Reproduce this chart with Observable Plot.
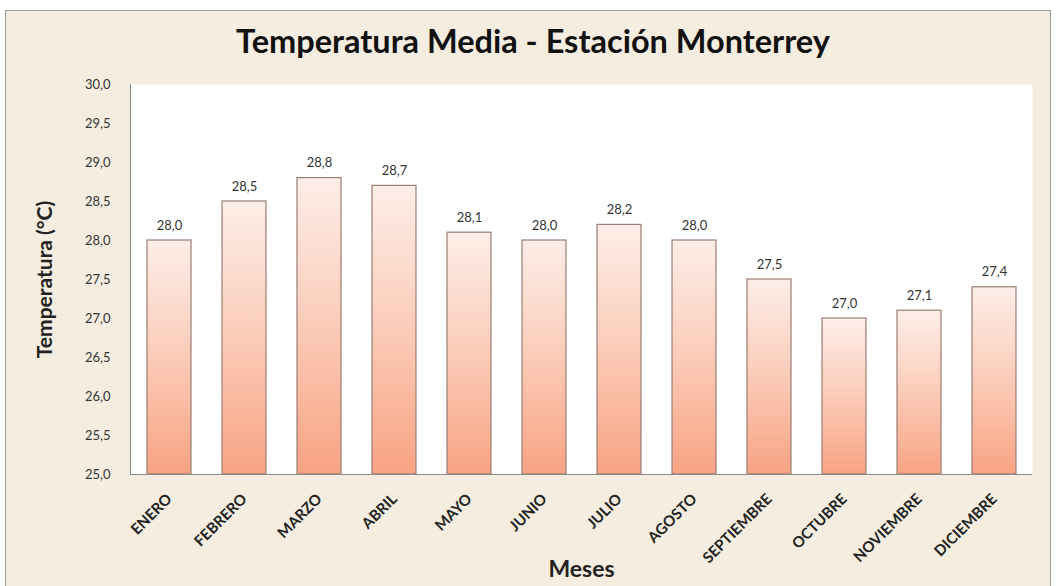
<!DOCTYPE html>
<html>
<head>
<meta charset="utf-8">
<script src="https://cdn.jsdelivr.net/npm/d3@7"></script>
<script src="https://cdn.jsdelivr.net/npm/@observablehq/plot@0.6"></script>
<style>
  html, body { margin: 0; padding: 0; background: #ffffff; }
  #page { position: relative; width: 1056px; height: 586px; overflow: hidden; background: #ffffff; }
  #frame { position: absolute; left: 5px; top: 10px; width: 1046px; height: 590px;
           background: #f5eee0; border: 1px solid #9a9a9a; box-sizing: border-box; }
  #title { position: absolute; left: 0; top: 21px; width: 1066px; text-align: center;
           font-family: Lato, "Open Sans", sans-serif; font-weight: bold; font-size: 32.5px; color: #111; }
  #chart { position: absolute; left: 0; top: 70px; }
</style>
</head>
<body>
<div id="page">
  <div id="frame"></div>
  <div id="title">Temperatura Media - Estación Monterrey</div>
  <div id="chart"></div>
</div>
<script>
const months = ["ENERO","FEBRERO","MARZO","ABRIL","MAYO","JUNIO","JULIO","AGOSTO","SEPTIEMBRE","OCTUBRE","NOVIEMBRE","DICIEMBRE"];
const temps = [28.0, 28.5, 28.8, 28.7, 28.1, 28.0, 28.2, 28.0, 27.5, 27.0, 27.1, 27.4];
const yTicks = [25.0, 25.5, 26.0, 26.5, 27.0, 27.5, 28.0, 28.5, 29.0, 29.5, 30.0];

const data = months.map((m, i) => ({month: m, temp: temps[i]}));
const fmt = d => d.toFixed(1).replace(".", ",");

const defs = () => {
  const svgDefs = d3.create("svg:defs");
  const g = svgDefs.append("linearGradient").attr("id", "barGrad")
    .attr("x1", 0).attr("y1", 0).attr("x2", 0).attr("y2", 1);
  g.append("stop").attr("offset", "0%").attr("stop-color", "#fdeee8");
  g.append("stop").attr("offset", "45%").attr("stop-color", "#fbcfbd");
  g.append("stop").attr("offset", "100%").attr("stop-color", "#f8a383");
  return svgDefs.node();
};

const chart = Plot.plot({
  width: 1056,
  height: 516,
  marginTop: 14,
  marginBottom: 112,
  marginLeft: 130,
  marginRight: 24,
  style: {background: "transparent", fontFamily: "Lato, 'Open Sans', sans-serif"},
  x: {domain: months, paddingInner: 0.42, paddingOuter: 0.17, label: null},
  y: {domain: [25, 30], label: null},
  marks: [
    defs,
    Plot.frame({fill: "white", stroke: null}),
    Plot.barY(data, {x: "month", y1: 25, y2: "temp", fill: "url(#barGrad)", stroke: "#9b7e74", strokeWidth: 1.2}),
    Plot.text(data, {x: "month", y: "temp", text: d => fmt(d.temp), dy: -15, fontSize: 13, fill: "#333"}),
    Plot.frame({anchor: "left", stroke: "#8a8a8a"}),
    Plot.ruleY([25], {stroke: "#8a8a8a"}),
    Plot.axisY({ticks: yTicks, tickFormat: fmt, tickSize: 0, tickPadding: 20, fontSize: 13, fill: "#333", label: null}),
    Plot.axisX({tickRotate: -45, tickSize: 0, tickPadding: 22, fontSize: 15, fontWeight: "bold", fill: "#222", label: null}),
    Plot.text(["Meses"], {frameAnchor: "bottom", dy: 102, fontSize: 23, fontWeight: "bold", fill: "#222"}),
    Plot.text(["Temperatura (°C)"], {frameAnchor: "left", textAnchor: "middle", dx: -85, rotate: -90, fontSize: 21, fontWeight: "bold", fill: "#222"})
  ]
});
document.getElementById("chart").appendChild(chart);
</script>
</body>
</html>
